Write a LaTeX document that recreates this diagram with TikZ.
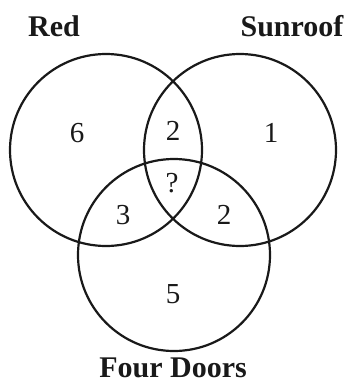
\documentclass[tikz,border=0pt]{standalone}
\usepackage{fontspec}
\setmainfont{Liberation Serif}
\begin{document}
\begin{tikzpicture}[x=1pt,y=-1pt,
  setcircle/.style={circle, draw=black!90, line width=2.2pt, minimum size=192pt, inner sep=0pt},
  title/.style={font=\fontsize{30}{30}\selectfont\bfseries, text=black!90, anchor=base, inner sep=0pt, outer sep=0pt},
  num/.style={font=\fontsize{29}{29}\selectfont, text=black!90, inner sep=0pt}]
\useasboundingbox (0,0) rectangle (350,383);
\node[setcircle] (red) at (106,150) {};
\node[setcircle] (sun) at (240,150) {};
\node[setcircle] (four) at (174,255) {};
\node[title] (lred) at (54,36) {Red};
\node[title] (lsun) at (292,36) {Sunroof};
\node[title] (lfour) at (173,377) {Four Doors};
\node[num] (n6) at (77,133) {6};
\node[num] (n2a) at (173,131) {2};
\node[num] (n1) at (271,133) {1};
\node[num] (nq) at (172,183) {?};
\node[num] (n3) at (123,215) {3};
\node[num] (n2b) at (224,215) {2};
\node[num] (n5) at (173,294) {5};
\end{tikzpicture}
\end{document}
